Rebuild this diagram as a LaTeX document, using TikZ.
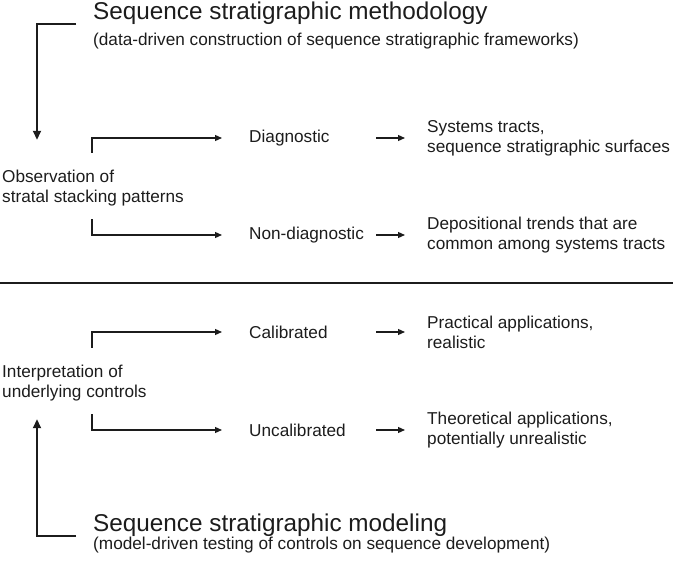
\documentclass[tikz,border=0pt]{standalone}
\usepackage{fontspec}
\setmainfont{Liberation Sans}
\usepackage{tikz}
\usetikzlibrary{arrows.meta}
\definecolor{Ink}{HTML}{1C1C1C}
\tikzset{
  body/.style={inner sep=0pt,font=\fontsize{17.2}{20}\selectfont,text=Ink,align=left},
  head/.style={inner sep=0pt,font=\fontsize{24.3}{28}\selectfont,text=Ink},
  mid/.style={body,anchor=west,text width=120pt},
  thinarr/.style={draw=Ink,line width=1.2pt,-{Triangle[length=7pt,width=6pt]}},
  bigarr/.style={draw=Ink,line width=1.8pt,-{Triangle[length=9pt,width=8pt]}},
  rule/.style={draw=Ink,line width=2.4pt}
}

\begin{document}
\begin{tikzpicture}[x=1pt,y=-1pt]
    \useasboundingbox (0,0) rectangle (673,561);

    \node[head,anchor=base west] (meth) at (93,20) {Sequence stratigraphic methodology};
    \node[body,anchor=base west] (methsub) at (93,46) {(data-driven construction of sequence stratigraphic frameworks)};

    \node[body,anchor=west] (obs) at (2,188) {Observation of\\stratal stacking patterns};
    \node[mid] (diag) at (249,138) {Diagnostic};
    \node[mid] (nondiag) at (249,235) {Non-diagnostic};
    \node[body,anchor=west] (systr) at (427,138) {Systems tracts,\\sequence stratigraphic surfaces};
    \node[body,anchor=west] (deptr) at (427,235) {Depositional trends that are\\common among systems tracts};

    \draw[rule] (0,283) -- (673,283);

    \node[body,anchor=west] (interp) at (2,383) {Interpretation of\\underlying controls};
    \node[mid] (calib) at (249,332) {Calibrated};
    \node[mid] (uncalib) at (249,430) {Uncalibrated};
    \node[body,anchor=west] (pract) at (427,332) {Practical applications,\\realistic};
    \node[body,anchor=west] (theor) at (427,430) {Theoretical applications,\\potentially unrealistic};

    \node[head,anchor=base west] (model) at (93,532) {Sequence stratigraphic modeling};
    \node[body,anchor=base west] (modelsub) at (93,550) {(model-driven testing of controls on sequence development)};

    \draw[bigarr] ([xshift=-17pt,yshift=-4pt]meth.base west) -| ([xshift=35pt,yshift=30pt]obs.north west);
    \draw[bigarr] ([xshift=-17pt,yshift=-4pt]model.base west) -| ([xshift=35pt,yshift=-18pt]interp.south west);

    \draw[thinarr] ([xshift=90pt,yshift=17pt]obs.north west) |- ([xshift=-27pt]diag.west);
    \draw[thinarr] ([xshift=90pt,yshift=-13pt]obs.south west) |- ([xshift=-27pt]nondiag.west);
    \draw[thinarr] ([xshift=90pt,yshift=17pt]interp.north west) |- ([xshift=-27pt]calib.west);
    \draw[thinarr] ([xshift=90pt,yshift=-13pt]interp.south west) |- ([xshift=-27pt]uncalib.west);

    \draw[thinarr] ([xshift=7pt]diag.east) -- ([xshift=-22pt]systr.west);
    \draw[thinarr] ([xshift=7pt]nondiag.east) -- ([xshift=-22pt]deptr.west);
    \draw[thinarr] ([xshift=7pt]calib.east) -- ([xshift=-22pt]pract.west);
    \draw[thinarr] ([xshift=7pt]uncalib.east) -- ([xshift=-22pt]theor.west);
\end{tikzpicture}
\end{document}
